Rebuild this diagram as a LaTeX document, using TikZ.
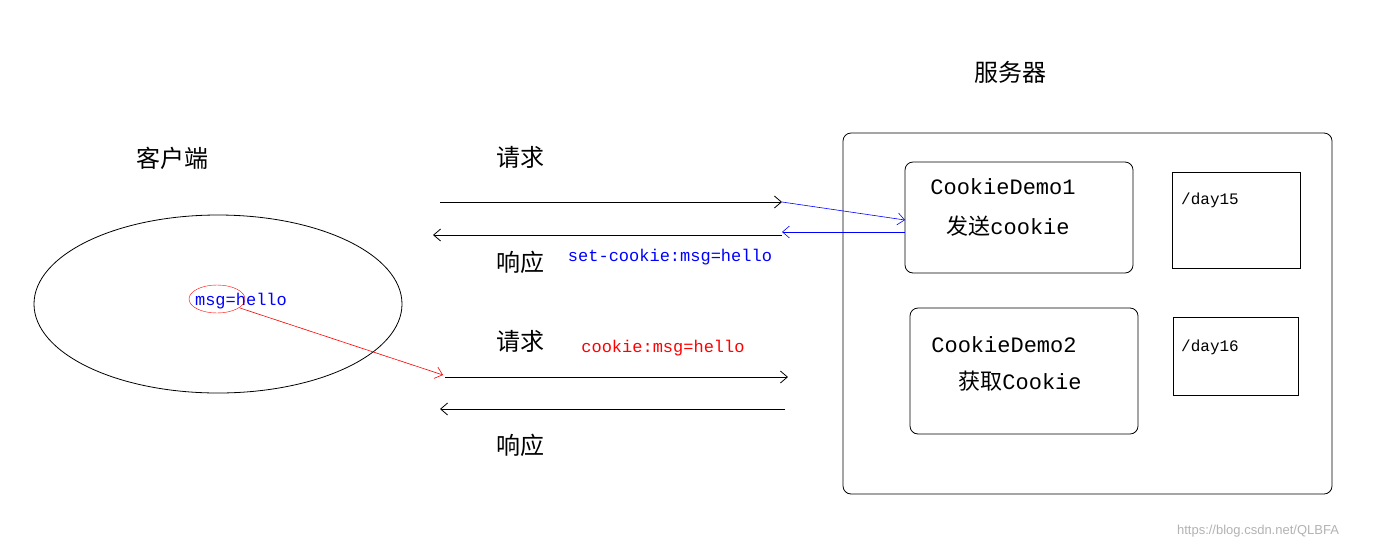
\documentclass[tikz,border=0pt]{standalone}
\usepackage{fontspec}
\setmainfont{Liberation Sans}
\newfontfamily\cjk{Noto Sans CJK SC}
\newfontfamily\mono{Liberation Mono}
\usetikzlibrary{arrows.meta,shapes.geometric}
\begin{document}
\begin{tikzpicture}[x=1pt,y=-1pt,
  arr/.style={-{Straight Barb[length=7pt,width=12pt]},line width=0.8pt},
  box/.style={draw,rounded corners=8pt,line width=0.8pt},
  sq/.style={draw,line width=0.8pt},
  zh/.style={font=\cjk\fontsize{24}{26}\selectfont},
  mt/.style={font=\mono\fontsize{22}{24}\selectfont},
  sm/.style={font=\mono\fontsize{17}{19}\selectfont}]
\useasboundingbox (0,0) rectangle (1376,550);
\node[zh] (server) at (1010,72) {服务器};
\draw[box] (843,133) rectangle (1332,494);
\node[box,minimum width=228pt,minimum height=111pt] (d1) at (1019,217.5) {};
\node[mt] (t1) at (1003,187) {CookieDemo1};
\node[mt] (t1b) at (1008,226) {{\cjk 发送}cookie};
\node[sq,minimum width=128pt,minimum height=96pt] (b15) at (1236,220) {};
\node[sm,font=\mono\fontsize{16}{18}\selectfont] at (1210,200) {/day15};
\node[box,minimum width=228pt,minimum height=126pt] (d2) at (1024,371) {};
\node[mt] (t2) at (1004,345) {CookieDemo2};
\node[mt] (t2b) at (1020,381) {{\cjk 获取}Cookie};
\node[sq,minimum width=125pt,minimum height=78pt] (b16) at (1235.5,356) {};
\node[sm,font=\mono\fontsize{16}{18}\selectfont] at (1210,347) {/day16};
\node[zh] (client) at (172,158) {客户端};
\draw[line width=0.8pt] (218,304) ellipse [x radius=184, y radius=89];
\node[draw=red,ellipse,minimum width=56pt,minimum height=28pt,inner sep=0pt] (me) at (217,299) {};
\node[sm,text=blue] (msg) at (241,301) {msg=hello};
\coordinate (r1) at (240,308);
\coordinate (r2) at (443,375);
\draw[arr,red,line width=0.6pt] (r1) -- (r2);
\node[zh] at (520,157) {请求};
\node[zh] at (520,262) {响应};
\node[zh] at (520,341) {请求};
\node[zh] at (520,445) {响应};
\node[sm,text=blue] at (670,257) {set-cookie:msg=hello};
\node[sm,text=red] at (663,348) {cookie:msg=hello};
\coordinate (a1) at (440,202); \coordinate (a2) at (782,202);
\draw[arr] (a1) -- (a2);
\coordinate (c1) at (782,235); \coordinate (c2) at (433,235);
\draw[arr] (c1) -- (c2);
\coordinate (bl1) at (905,232); \coordinate (bl2) at (782,232);
\draw[arr,blue,line width=0.6pt] (bl1) -- (bl2);
\coordinate (bu2) at (905,220);
\draw[arr,blue,line width=0.6pt] (a2) -- (bu2);
\coordinate (e1) at (445,377); \coordinate (e2) at (788,377);
\draw[arr] (e1) -- (e2);
\coordinate (f1) at (785,409); \coordinate (f2) at (440,409);
\draw[arr] (f1) -- (f2);
\node[text=black!30,font=\fontsize{13}{15}\selectfont] at (1258,531) {https://blog.csdn.net/QLBFA};
\end{tikzpicture}
\end{document}
